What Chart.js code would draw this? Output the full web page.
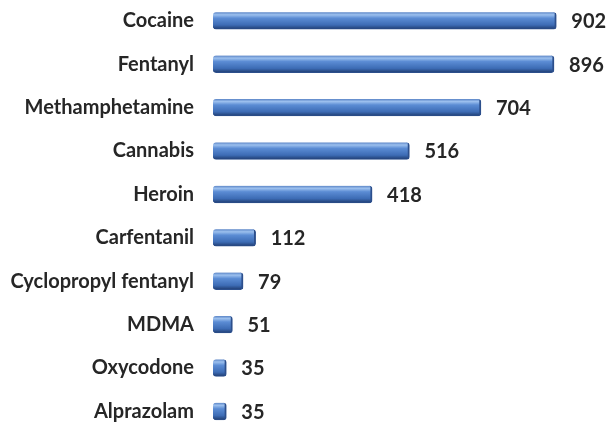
<!DOCTYPE html>
<html>
<head>
<meta charset="utf-8">
<script src="https://cdn.jsdelivr.net/npm/chart.js@4"></script>
<style>
  html, body { margin: 0; padding: 0; background: #fff; overflow: hidden; }
  #wrap { position: relative; top: -1px; width: 606px; height: 434px; }
</style>
</head>
<body>
<div id="wrap"><canvas id="chart"></canvas></div>
<script>
var drugs = ["Cocaine", "Fentanyl", "Methamphetamine", "Cannabis", "Heroin",
  "Carfentanil", "Cyclopropyl fentanyl", "MDMA", "Oxycodone", "Alprazolam"];
var counts = [902, 896, 704, 516, 418, 112, 79, 51, 35, 35];

var LABEL_FONT = { family: "Lato, 'Open Sans', sans-serif", size: 20, weight: "bold" };

// cylinder-ish shading on each bar
function barFill(c) {
  var chart = c.chart;
  if (!chart.chartArea || !chart.scales.y) return "#4f7fc4";
  var y = chart.scales.y.getPixelForValue(c.dataIndex);
  var h = 17;
  var g = chart.ctx.createLinearGradient(0, y - h / 2, 0, y + h / 2);
  g.addColorStop(0, "#5a84c6");
  g.addColorStop(0.15, "#9cc0ee");
  g.addColorStop(0.35, "#5b8cd4");
  g.addColorStop(0.75, "#3d6cb5");
  g.addColorStop(1, "#1f3c70");
  return g;
}

var valueLabels = {
  id: "valueLabels",
  afterDatasetsDraw: function (chart) {
    var ctx = chart.ctx;
    var meta = chart.getDatasetMeta(0);
    ctx.save();
    ctx.font = LABEL_FONT.weight + " " + LABEL_FONT.size + "px " + LABEL_FONT.family;
    ctx.fillStyle = "#262626";
    ctx.textAlign = "left";
    ctx.textBaseline = "middle";
    meta.data.forEach(function (bar, i) {
      ctx.fillText(counts[i], bar.x + 15, bar.y + 1);
    });
    ctx.restore();
  }
};

new Chart(document.getElementById("chart").getContext("2d"), {
  type: "bar",
  data: {
    labels: drugs,
    datasets: [{
      data: counts,
      backgroundColor: barFill,
      borderColor: "#2c4f8c",
      borderWidth: { right: 2, bottom: 1, top: 0, left: 0 },
      borderRadius: 3,
      borderSkipped: false,
      barThickness: 17
    }]
  },
  options: {
    indexAxis: "y",
    responsive: true,
    maintainAspectRatio: false,
    animation: false,
    layout: { padding: { left: 0, right: 20, top: 0, bottom: 0 } },
    plugins: {
      legend: { display: false },
      tooltip: { enabled: false }
    },
    scales: {
      x: { display: false, min: 0, max: 980 },
      y: {
        grid: { display: false },
        border: { display: false },
        ticks: { font: LABEL_FONT, color: "#262626", padding: 11 },
        afterFit: function (s) {
          s.width = 213;
          s.paddingTop = 0;
          s.paddingBottom = 0;
        }
      }
    }
  },
  plugins: [valueLabels]
});
</script>
</body>
</html>
